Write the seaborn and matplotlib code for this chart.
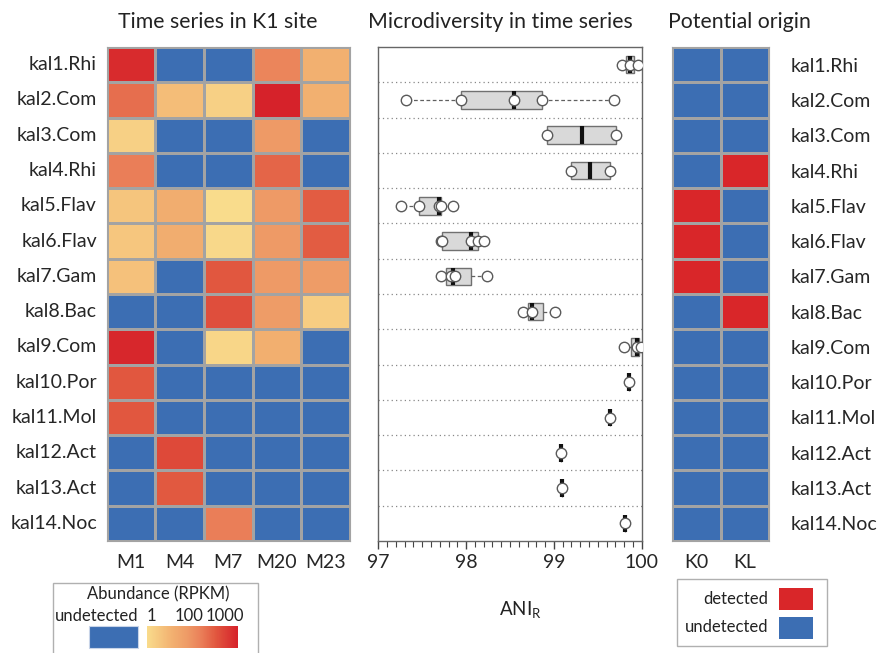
import numpy as np
import pandas as pd
import matplotlib
matplotlib.use("Agg")
import matplotlib.pyplot as plt
import seaborn as sns
from matplotlib.colors import LinearSegmentedColormap, ListedColormap
from matplotlib.patches import Rectangle
from matplotlib.ticker import MultipleLocator

# genomes (rows, top to bottom)
genomes = ["kal1.Rhi", "kal2.Com", "kal3.Com", "kal4.Rhi", "kal5.Flav", "kal6.Flav",
           "kal7.Gam", "kal8.Bac", "kal9.Com", "kal10.Por", "kal11.Mol", "kal12.Act",
           "kal13.Act", "kal14.Noc"]

# time series abundance (RPKM), 0 = undetected
months = ["M1", "M4", "M7", "M20", "M23"]
rpkm = [
    [760, 0, 0, 50, 7],
    [100, 4, 1.7, 1000, 7],
    [1.7, 0, 0, 22, 0],
    [63, 0, 0, 126, 0],
    [2.8, 8, 1, 22, 166],
    [2.6, 8, 1.2, 22, 166],
    [3.3, 0, 190, 22, 20],
    [0, 0, 250, 20, 2],
    [850, 0, 1.3, 7.5, 0],
    [190, 0, 0, 0, 0],
    [190, 0, 0, 0, 0],
    [0, 290, 0, 0, 0],
    [0, 180, 0, 0, 0],
    [0, 0, 63, 0, 0],
]

# ANI_R per genome across time points where it was detected
ani_values = [
    [99.77, 99.87, 99.96],
    [97.32, 97.94, 98.54, 98.87, 99.68],
    [98.92, 99.71],
    [99.19, 99.64],
    [97.26, 97.46, 97.69, 97.71, 97.85],
    [97.71, 97.73, 98.06, 98.13, 98.20],
    [97.71, 97.83, 97.87, 98.24],
    [98.65, 98.75, 99.01],
    [99.80, 99.95, 99.99],
    [99.85],
    [99.64],
    [99.08],
    [99.09],
    [99.81],
]

# potential origin (1 = detected)
sites = ["K0", "KL"]
origin = [
    [0, 0], [0, 0], [0, 0], [0, 1], [1, 0], [1, 0], [1, 0],
    [0, 1], [0, 0], [0, 0], [0, 0], [0, 0], [0, 0], [0, 0],
]

BLUE = "#3C6EB3"
RED = "#D92629"
GRID = "#a3a3a3"
W, H = 878, 653

sns.set_theme(style="white")
plt.rcParams["font.family"] = ["Lato", "DejaVu Sans"]
plt.rcParams["mathtext.fontset"] = "custom"
plt.rcParams["mathtext.rm"] = "Lato"
plt.rcParams["text.color"] = "#222222"


def box(x0, y0, x1, y1):
    # pixel box -> figure fraction rect
    return [x0 / W, 1 - y1 / H, (x1 - x0) / W, (y1 - y0) / H]


def fivenum(v):
    x = np.sort(np.asarray(v, float))
    n = len(x)
    n4 = np.floor((n + 3) / 2) / 2
    d = np.array([1, n4, (n + 1) / 2, n + 1 - n4, n]) - 1
    return 0.5 * (x[np.floor(d).astype(int)] + x[np.ceil(d).astype(int)])


fig = plt.figure(figsize=(W / 100, H / 100), dpi=100)
ax_l = fig.add_axes(box(106.7, 47, 350, 541))
ax_m = fig.add_axes(box(378.3, 47, 641.7, 541))
ax_r = fig.add_axes(box(672, 47, 769.3, 541))
cax = fig.add_axes(box(146.7, 626, 237.7, 648))

# %% left heatmap
abund = pd.DataFrame(rpkm, index=genomes, columns=months)
level = np.log10(abund.where(abund > 0)).fillna(-1)
cmap = LinearSegmentedColormap.from_list(
    "abund", [(0, "#F9DC8C"), (0.28, "#F2B070"), (0.45, "#EE9A66"),
              (0.6, "#EA7E58"), (0.76, "#E1573F"), (1.0, "#D6222A")])
cmap.set_under(BLUE)
sns.heatmap(level, cmap=cmap, vmin=0, vmax=3, linewidths=0.8, linecolor=GRID,
            ax=ax_l, cbar_ax=cax, cbar_kws=dict(orientation="horizontal"))
ax_l.tick_params(length=0, labelsize=14, pad=7)
ax_l.tick_params(axis="x", pad=9)
ax_l.set_yticklabels(genomes, rotation=0)
ax_l.set_xlabel("")
ax_l.set_ylabel("")
cax.set_xticks([])
ax_l.collections[0].colorbar.outline.set_visible(False)

# %% middle boxplot
stats = []
for v in ani_values:
    lo, q1, med, q3, hi = fivenum(v)
    stats.append(dict(whislo=lo, q1=q1, med=med, q3=q3, whishi=hi, fliers=[]))
ax_m.bxp(stats, positions=range(len(genomes)), widths=0.5, orientation="horizontal",
         patch_artist=True, showcaps=False, manage_ticks=False,
         boxprops=dict(facecolor="#d9d9d9", edgecolor="#707070", linewidth=1),
         medianprops=dict(color="#111111", linewidth=3, solid_capstyle="butt"),
         whiskerprops=dict(color="#606060", linestyle=(0, (3, 2)), linewidth=0.9))
pts = pd.DataFrame({"genome": [g for g, v in zip(genomes, ani_values) for _ in v],
                    "ani": [a for v in ani_values for a in v]})
sns.stripplot(data=pts, x="ani", y="genome", order=genomes, orient="h", jitter=False,
              size=7.5, color="white", edgecolor="#5a5a5a", linewidth=1, ax=ax_m,
              zorder=5)
for i in range(len(genomes) - 1):
    ax_m.axhline(i + 0.5, color="#888888", linestyle=(0, (1, 2.5)), linewidth=0.9,
                 zorder=0)
ax_m.set_xlim(97, 100)
ax_m.set_ylim(len(genomes) - 0.5, -0.5)
ax_m.set_yticks([])
ax_m.set_xlabel("")
ax_m.set_ylabel("")
ax_m.xaxis.set_major_locator(MultipleLocator(1))
ax_m.xaxis.set_minor_locator(MultipleLocator(0.1))
ax_m.tick_params(axis="x", which="both", direction="out", bottom=True, color="#444444",
                 labelsize=14, pad=3)
ax_m.tick_params(axis="x", which="major", length=6, width=1)
ax_m.tick_params(axis="x", which="minor", length=4, width=0.8)
for s in ax_m.spines.values():
    s.set_color("#666666")
    s.set_linewidth(1)

# %% right heatmap
orig = pd.DataFrame(origin, index=genomes, columns=sites)
sns.heatmap(orig, cmap=ListedColormap([BLUE, RED]), vmin=0, vmax=1, cbar=False,
            linewidths=0.8, linecolor=GRID, ax=ax_r)
ax_r.yaxis.tick_right()
ax_r.set_yticklabels(genomes, rotation=0, ha="left")
ax_r.tick_params(length=0, labelsize=14)
ax_r.tick_params(axis="y", pad=15)
ax_r.tick_params(axis="x", pad=9)
ax_r.set_xlabel("")
ax_r.set_ylabel("")

for a in (ax_l, ax_r):
    for s in a.spines.values():
        s.set_visible(True)
        s.set_color(GRID)
        s.set_linewidth(0.8)

# %% titles and labels
fig.text(217.5 / W, 1 - 22 / H, "Time series in K1 site", ha="center", va="center",
         fontsize=15.3)
fig.text(500 / W, 1 - 22 / H, "Microdiversity in time series", ha="center",
         va="center", fontsize=15.3)
fig.text(668 / W, 1 - 22 / H, "Potential origin", ha="left", va="center",
         fontsize=15.3)
fig.text(520 / W, 1 - 610 / H, r"ANI$_\mathrm{R}$", ha="center", va="center",
         fontsize=13.5)

# %% legends
fig.patches.append(Rectangle((53 / W, -0.02), 205 / W, (660 - 577) / H + 0.0,
                             transform=fig.transFigure, fill=False, edgecolor="#b0b0b0",
                             linewidth=1))
fig.text(158 / W, 1 - 594 / H, "Abundance (RPKM)", ha="center", va="center", fontsize=12)
fig.text(138 / W, 1 - 616 / H, "undetected", ha="right", va="center", fontsize=12)
fig.text(147 / W, 1 - 616 / H, "1", ha="left", va="center", fontsize=12)
fig.text(189 / W, 1 - 616 / H, "100", ha="center", va="center", fontsize=12)
fig.text(244 / W, 1 - 616 / H, "1000", ha="right", va="center", fontsize=12)
fig.patches.append(Rectangle((89 / W, 1 - 648 / H), 48.7 / W, 22 / H,
                             transform=fig.transFigure, facecolor=BLUE,
                             edgecolor="#c8d4e8", linewidth=0.8))

fig.patches.append(Rectangle((676.7 / W, 1 - 646 / H), 150 / W, 67 / H,
                             transform=fig.transFigure, fill=False, edgecolor="#b0b0b0",
                             linewidth=1))
fig.text(768 / W, 1 - 599 / H, "detected", ha="right", va="center", fontsize=12)
fig.text(768 / W, 1 - 627 / H, "undetected", ha="right", va="center", fontsize=12)
fig.patches.append(Rectangle((779 / W, 1 - 610 / H), 33.7 / W, 22 / H,
                             transform=fig.transFigure, facecolor=RED, edgecolor="none"))
fig.patches.append(Rectangle((779 / W, 1 - 639 / H), 33.7 / W, 22 / H,
                             transform=fig.transFigure, facecolor=BLUE, edgecolor="none"))

fig.savefig("out.png", dpi=100)
